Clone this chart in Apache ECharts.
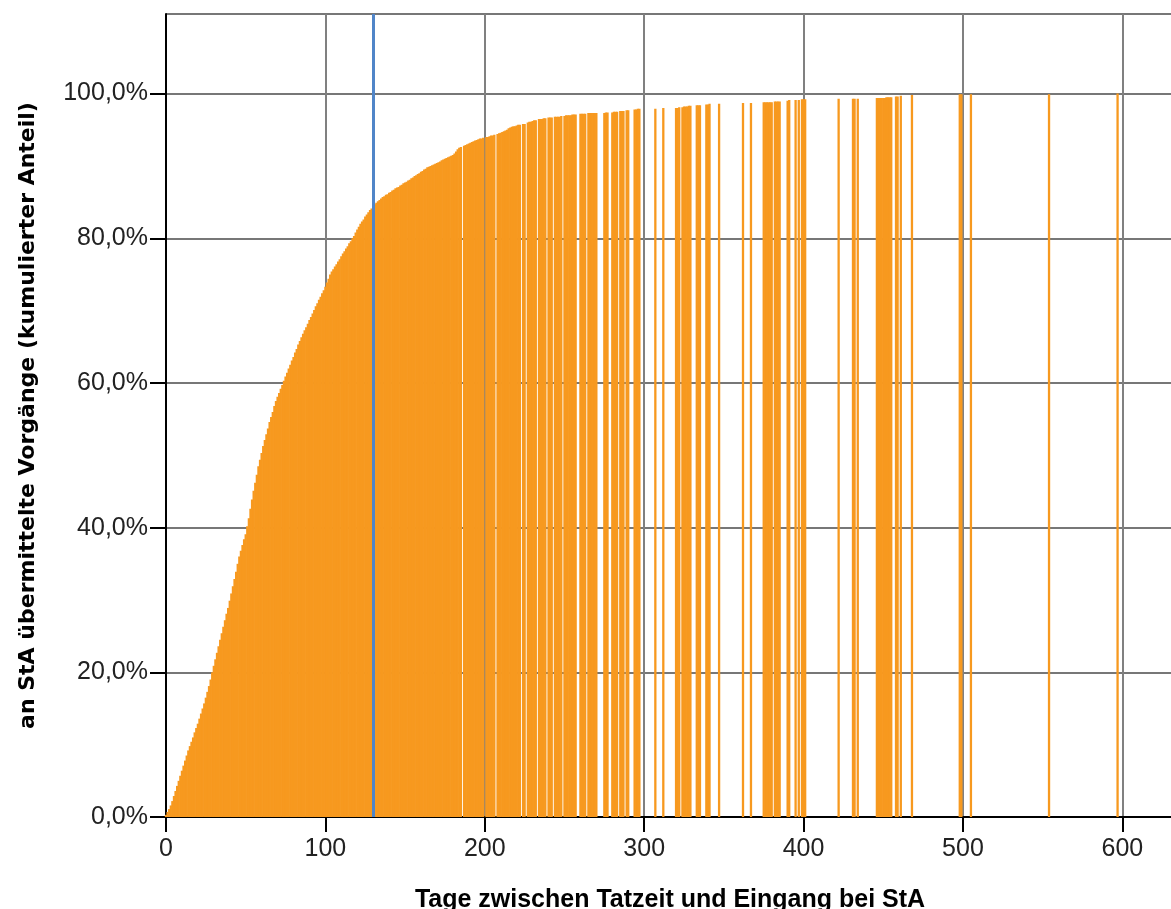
<!DOCTYPE html>
<html>
<head>
<meta charset="utf-8">
<script src="https://cdn.jsdelivr.net/npm/echarts@6/dist/echarts.min.js"></script>
<style>html,body{margin:0;padding:0;background:#fff}#c{width:1171px;height:909px}</style>
</head>
<body>
<div id="c"></div>
<script>
// cumulative share (%) for days 0..222 (index = day, null = no cases that day)
var denseValues = [
  0.3, 0.7, 1.1, 1.6, 2.2, 2.9, 3.6, 4.3, 5.0, 5.7,
  6.4, 7.1, 7.8, 8.5, 9.2, 9.8, 10.4, 11.0, 11.7, 12.3,
  12.9, 13.6, 14.3, 15.0, 15.7, 16.5, 17.3, 18.1, 19.0, 20.0,
  20.9, 21.8, 22.7, 23.6, 24.5, 25.4, 26.3, 27.2, 28.1, 28.9,
  29.9, 30.9, 31.9, 32.9, 33.9, 35.0, 36.0, 36.8, 37.6, 38.4,
  39.1, 40.2, 41.3, 42.6, 43.9, 45.1, 46.2, 47.3, 48.5, 49.4,
  50.3, 51.3, 52.1, 52.9, 53.7, 54.6, 55.3, 56.0, 56.8, 57.5,
  58.1, 58.6, 59.2, 59.7, 60.3, 60.9, 61.4, 62.0, 62.5, 63.1,
  63.6, 64.2, 64.7, 65.3, 65.8, 66.3, 66.8, 67.3, 67.7, 68.2,
  68.7, 69.1, 69.6, 70.1, 70.6, 71.0, 71.5, 71.9, 72.4, 72.8,
  73.3, 73.9, 74.4, 75.0, 75.4, 75.7, 76.1, 76.4, 76.8, 77.1,
  77.5, 77.9, 78.2, 78.6, 78.9, 79.3, 79.6, 80.0, 80.3, 80.8,
  81.2, 81.6, 82.0, 82.3, 82.6, 83.0, 83.3, 83.6, 83.9, 84.1,
  84.4, 84.7, 84.9, 85.1, 85.3, 85.5, 85.7, 85.8, 86.0, 86.1,
  86.3, 86.4, 86.6, 86.7, 86.9, 87.0, 87.1, 87.3, 87.4, 87.6,
  87.7, 87.8, 88.0, 88.1, 88.3, 88.4, 88.6, 88.7, 88.9, 89.0,
  89.2, 89.3, 89.5, 89.6, 89.8, 89.9, 90.0, 90.1, 90.2, 90.3,
  90.4, 90.5, 90.6, 90.8, 90.9, 91.0, 91.1, 91.2, 91.3, 91.4,
  91.5, 91.7, 92.0, 92.3, 92.5, 92.6, null, 92.8, 92.9, 93.0,
  93.1, 93.2, 93.3, 93.4, 93.5, 93.6, 93.7, 93.8, 93.8, 93.9,
  null, 94.0, 94.0, 94.1, 94.2, 94.2, 94.3, null, 94.4, 94.5,
  94.6, 94.7, 94.8, 94.9, 95.0, 95.2, 95.3, 95.4, 95.5, 95.5,
  95.6, 95.7, 95.7
];

// later days with cases (sparse)
var sparseDays = [
  224, 225, 227, 228, 229, 230, 231, 232, 234, 235, 236, 237, 238,
  240, 241, 242, 244, 245, 246, 247, 248, 250, 251, 252, 253, 254, 255, 256, 257,
  260, 261, 262, 263, 265, 266, 267, 268, 269, 270, 275, 276, 277,
  280, 281, 282, 283, 285, 286, 287, 289, 290, 294, 295, 296, 297,
  307, 312, 320, 321, 322, 324, 325, 326, 327, 328, 329, 333, 334, 335,
  339, 340, 341, 347, 362, 367, 375, 376, 377, 378, 379, 380,
  382, 383, 384, 385, 390, 391, 395, 397, 399, 400, 401,
  422, 431, 432, 434, 446, 447, 448, 449, 450, 451, 452, 453, 454, 455,
  458, 459, 461, 468, 498, 499, 505, 554, 597
];
var sparseValues = [
  95.8, 95.8, 96.0, 96.1, 96.1, 96.2, 96.3, 96.3, 96.5, 96.5, 96.5, 96.6, 96.6,
  96.7, 96.7, 96.7, 96.8, 96.8, 96.8, 96.8, 96.9, 96.9, 97.0, 97.0, 97.0, 97.0, 97.1, 97.1, 97.1,
  97.2, 97.2, 97.2, 97.2, 97.3, 97.3, 97.3, 97.3, 97.3, 97.3, 97.3, 97.4, 97.4,
  97.4, 97.5, 97.5, 97.5, 97.6, 97.6, 97.6, 97.7, 97.7, 97.8, 97.8, 97.9, 97.9,
  97.9, 98.0, 98.0, 98.0, 98.1, 98.1, 98.2, 98.2, 98.2, 98.3, 98.3, 98.4, 98.4, 98.4,
  98.5, 98.5, 98.6, 98.6, 98.7, 98.7, 98.8, 98.8, 98.8, 98.8, 98.8, 98.8,
  98.9, 98.9, 98.9, 98.9, 99.0, 99.1, 99.1, 99.1, 99.2, 99.2, 99.2,
  99.3, 99.3, 99.3, 99.3, 99.4, 99.4, 99.4, 99.4, 99.4, 99.4, 99.5, 99.5, 99.5, 99.5,
  99.6, 99.6, 99.7, 99.8, 99.9, 99.9, 99.9, 99.9, 100.0
];

var xTicks = [0, 100, 200, 300, 400, 500, 600];
var yTicks = [0, 20, 40, 60, 80, 100];
var referenceDay = [130];

var xTitle = 'Tage zwischen Tatzeit und Eingang bei StA';
var yTitle = 'an StA übermittelte Vorgänge (kumulierter Anteil)';

var data = [];
denseValues.forEach(function (v, d) { if (v !== null) data.push([d, v]); });
sparseDays.forEach(function (d, i) { data.push([d, sparseValues[i]]); });

var FONT = '"Liberation Sans", Arial, sans-serif';
var chart = echarts.init(document.getElementById('c'), null, { renderer: 'canvas' });
chart.setOption({
  animation: false,
  backgroundColor: '#ffffff',
  grid: { left: 166, right: -3, top: 14, bottom: 92, containLabel: false, outerBoundsMode: 'none' },
  xAxis: {
    type: 'value', min: 0, max: 632.4, interval: 100,
    name: xTitle, nameLocation: 'middle', nameGap: 71,
    nameTextStyle: { fontFamily: FONT, fontWeight: 'bold', fontSize: 25, color: '#000' },
    axisLine: { show: true, lineStyle: { color: '#000', width: 2 } },
    axisTick: { show: true, length: 15, lineStyle: { color: '#000', width: 2 } },
    axisLabel: {
      margin: 20, fontFamily: FONT, fontSize: 25, color: '#222', showMaxLabel: false,
      formatter: function (v) { return xTicks.indexOf(v) >= 0 ? String(v) : ''; }
    },
    splitLine: { show: true, lineStyle: { color: '#808080', width: 2 } }
  },
  yAxis: {
    type: 'value', min: 0, max: 111, interval: 20,
    name: yTitle, nameLocation: 'middle', nameGap: 127,
    nameTextStyle: { fontFamily: '"DejaVu Sans", sans-serif', fontWeight: 'bold', fontSize: 22, color: '#000' },
    axisLine: { show: true, lineStyle: { color: '#000', width: 2 } },
    axisTick: { show: true, length: 16, lineStyle: { color: '#000', width: 2 } },
    axisLabel: {
      margin: 18, fontFamily: FONT, fontSize: 25, color: '#222', showMaxLabel: false,
      formatter: function (v) { return yTicks.indexOf(v) >= 0 ? v.toFixed(1).replace('.', ',') + '%' : ''; }
    },
    splitLine: { show: true, lineStyle: { color: '#777', width: 2 } }
  },
  series: [{
    type: 'bar',
    data: data,
    barWidth: 2.3,
    itemStyle: { color: '#f7991f' },
    markLine: {
      silent: true, symbol: ['none', 'none'],
      label: { show: false },
      lineStyle: { color: '#5085c8', width: 3, type: 'solid' },
      data: referenceDay.map(function (d) { return { xAxis: d }; })
    }
  }]
});
</script>
</body>
</html>
